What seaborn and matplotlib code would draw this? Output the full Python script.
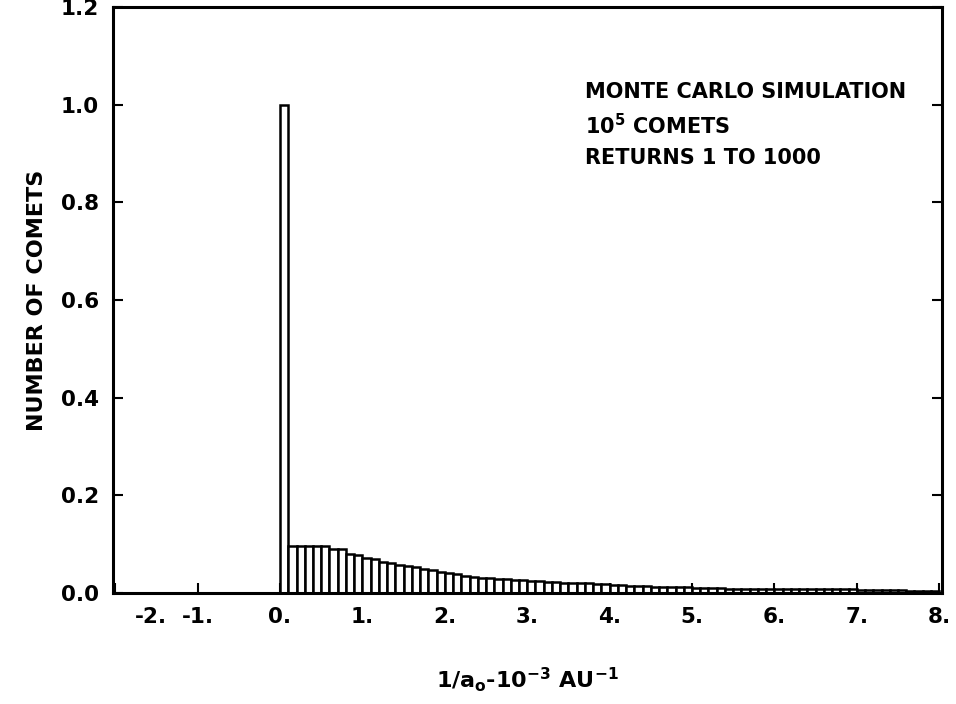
import numpy as np
import pandas as pd
import matplotlib
matplotlib.use("Agg")
import matplotlib.pyplot as plt
import matplotlib.transforms as mtransforms
import seaborn as sns

# Bin centres (width 0.1) and normalised counts
bin_centers = [round(0.05 + 0.1 * i, 2) for i in range(80)]
counts = [
    1.000, 0.096, 0.096, 0.096, 0.096, 0.095, 0.089, 0.089, 0.080, 0.078,
    0.072, 0.070, 0.064, 0.060, 0.057, 0.055, 0.052, 0.049, 0.046, 0.043,
    0.041, 0.038, 0.035, 0.032, 0.031, 0.030, 0.029, 0.028, 0.027, 0.026,
    0.025, 0.024, 0.023, 0.022, 0.021, 0.020, 0.019, 0.019, 0.018, 0.017,
    0.016, 0.015, 0.014, 0.013, 0.013, 0.012, 0.012, 0.011, 0.011, 0.011,
    0.010, 0.010, 0.010, 0.009, 0.008, 0.008, 0.007, 0.007, 0.007, 0.007,
    0.007, 0.007, 0.007, 0.007, 0.007, 0.007, 0.007, 0.007, 0.007, 0.007,
    0.006, 0.005, 0.005, 0.005, 0.005, 0.005, 0.004, 0.004, 0.004, 0.004,
]
x_ticks = [-2, -1, 0, 1, 2, 3, 4, 5, 6, 7, 8]
x_tick_labels = ["-2.", "-1.", "0.", "1.", "2.", "3.", "4.", "5.", "6.", "7.", "8."]
y_ticks = [0.0, 0.2, 0.4, 0.6, 0.8, 1.0, 1.2]
y_tick_labels = ["0.0", "0.2", "0.4", "0.6", "0.8", "1.0", "1.2"]
annotation_lines = ["MONTE CARLO SIMULATION", r"10$^{5}$ COMETS", "RETURNS 1 TO 1000"]

df = pd.DataFrame({"x": bin_centers, "n": counts})

sns.set_style("ticks")
plt.rcParams["font.family"] = ["DejaVu Sans"]
plt.rcParams["font.weight"] = "bold"
plt.rcParams["mathtext.fontset"] = "custom"
plt.rcParams["mathtext.rm"] = "DejaVu Sans:bold"
plt.rcParams["mathtext.it"] = "DejaVu Sans:bold"
plt.rcParams["mathtext.bf"] = "DejaVu Sans:bold"
for key in ["text.color", "axes.labelcolor", "xtick.color", "ytick.color", "axes.edgecolor"]:
    plt.rcParams[key] = "black"

fig = plt.figure(figsize=(9.56, 7.04), dpi=100)
ax = fig.add_axes([0.118, 0.158, 0.867, 0.832])

sns.histplot(data=df, x="x", weights="n", binwidth=0.1, binrange=(0, 8),
             color="white", edgecolor="black", linewidth=1.8, alpha=1,
             ax=ax)

ax.set_xlim(-2.03, 8.03)
ax.set_ylim(0, 1.2)

ax.set_xticks(x_ticks)
ax.set_xticklabels(x_tick_labels, fontsize=15.5, fontweight="bold")
ax.set_yticks(y_ticks)
ax.set_yticklabels(y_tick_labels, fontsize=15.5, fontweight="bold")
ax.tick_params(axis="both", direction="in", length=7, width=1.5, pad=10)
ax.tick_params(axis="y", right=True, labelright=False)

# first x label sits to the right of the spine in the original
lbl = ax.get_xticklabels()[0]
lbl.set_ha("left")
lbl.set_transform(lbl.get_transform() + mtransforms.ScaledTranslation(0.2, 0, fig.dpi_scale_trans))

for s in ax.spines.values():
    s.set_linewidth(2.2)

ax.set_xlabel(r"1/$a_{o}$-10$^{-3}$ AU$^{-1}$", fontsize=16, fontweight="bold", labelpad=28)
ax.set_ylabel("NUMBER OF COMETS", fontsize=16, fontweight="bold", labelpad=10)

for i, line in enumerate(annotation_lines):
    ax.text(3.7, 1.025 - i * 0.067, line, fontsize=15, fontweight="bold",
            ha="left", va="center")

fig.savefig("out.png", dpi=100)
